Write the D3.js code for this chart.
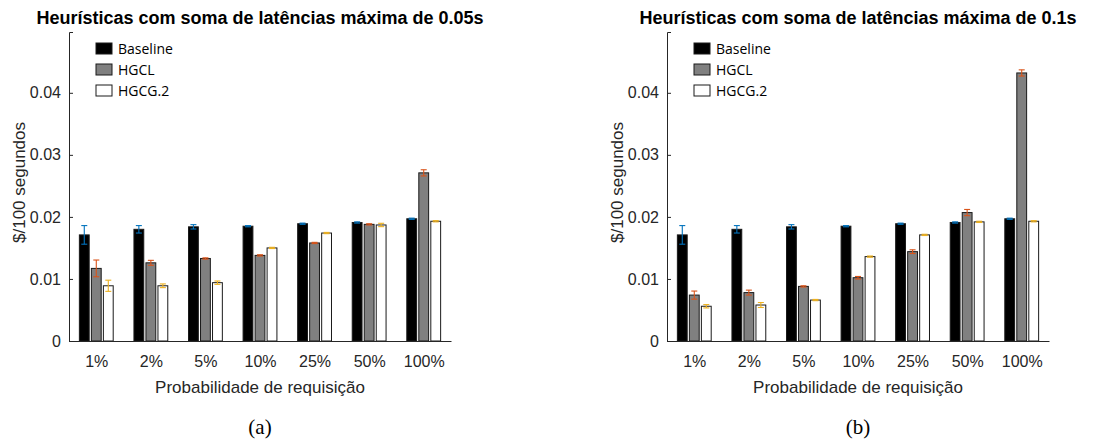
<!DOCTYPE html>
<html lang="en">
  <head>
    <meta charset="utf-8">
    <title>Heurísticas - custo por probabilidade de requisição</title>
    <style>
      body { margin: 0; background: #fff; }
      .tick text { font-family: "Liberation Sans", Arial, sans-serif; font-size: 16px; fill: #262626; }
      .legend text { font-family: "Open Sans", "DejaVu Sans", sans-serif; font-size: 14px; fill: #000; }
    </style>
  </head>
  <body>
    <div class="chart"></div>

    <script src="https://cdn.jsdelivr.net/npm/d3@7/dist/d3.min.js"></script>
    <script type="text/javascript">
      // categories and series
      var categories = ["1%", "2%", "5%", "10%", "25%", "50%", "100%"];
      var seriesNames = ["Baseline", "HGCL", "HGCG.2"];
      var yTicks = [0, 0.01, 0.02, 0.03, 0.04];

      // panel (a): max latency sum 0.05s
      var baselineA = [0.0171, 0.0180, 0.0184, 0.0185, 0.0189, 0.0191, 0.0197];
      var baselineErrA = [0.0015, 0.0006, 0.00035, 0.0001, 0.0001, 0.0001, 0.0001];
      var hgclA = [0.0117, 0.0126, 0.0133, 0.0138, 0.0158, 0.0188, 0.0271];
      var hgclErrA = [0.00135, 0.0004, 0.0001, 0.0001, 0.0001, 0.0001, 0.0005];
      var hgcgA = [0.0089, 0.0089, 0.0094, 0.0150, 0.0174, 0.0187, 0.0193];
      var hgcgErrA = [0.0009, 0.0003, 0.00027, 0.0001, 0.0001, 0.00027, 0.0001];

      // panel (b): max latency sum 0.1s
      var baselineB = [0.0171, 0.0180, 0.0184, 0.0185, 0.0189, 0.0191, 0.0197];
      var baselineErrB = [0.0015, 0.0006, 0.00035, 0.0001, 0.0001, 0.0001, 0.0001];
      var hgclB = [0.0074, 0.0078, 0.0088, 0.0102, 0.0144, 0.0207, 0.0432];
      var hgclErrB = [0.00065, 0.0004, 0.0001, 0.0002, 0.0003, 0.0005, 0.0005];
      var hgcgB = [0.0056, 0.0058, 0.0066, 0.0136, 0.0171, 0.0192, 0.0193];
      var hgcgErrB = [0.00027, 0.0004, 0.0001, 0.0001, 0.0001, 0.0001, 0.0001];

      var fills = ["#000000", "#808080", "#ffffff"];
      var errColors = ["#0072BD", "#D95319", "#EDB120"];

      var W = 1120, H = 441;
      var svg = d3.select(".chart")
        .append("svg")
          .attr("width", W)
          .attr("height", H);

      function drawPanel(left, title, caption, series, errs) {
          var margin = {top: 32, left: left, width: 382, height: 309};

          var g = svg.append("g")
              .attr("transform", "translate(" + margin.left + "," + margin.top + ")");

          var x = d3.scaleLinear().domain([0.5, 7.5]).range([0, margin.width]);
          var y = d3.scaleLinear().domain([0, 0.0498]).range([margin.height, 0]);
          var step = x(2) - x(1);
          var barW = step * 0.18, off = step * 0.22;

          // bars + error bars
          series.forEach(function(vals, s) {
              var grp = g.append("g").attr("class", "series-" + s);
              grp.selectAll("rect")
                  .data(vals)
                  .enter().append("rect")
                  .attr("x", function(d, i) { return x(i + 1) + (s - 1) * off - barW / 2; })
                  .attr("y", function(d) { return y(d); })
                  .attr("width", barW)
                  .attr("height", function(d) { return y(0) - y(d); })
                  .attr("fill", fills[s])
                  .attr("stroke", "#1a1a1a")
                  .attr("stroke-width", 1);

              var eb = grp.selectAll("g.err")
                  .data(vals.map(function(v, i) { return {v: v, e: errs[s][i], i: i}; }))
                  .enter().append("g").attr("class", "err")
                  .attr("stroke", errColors[s])
                  .attr("stroke-width", 1.1);
              var cx = function(d) { return x(d.i + 1) + (s - 1) * off; };
              eb.append("line")
                  .attr("x1", cx).attr("x2", cx)
                  .attr("y1", function(d) { return y(d.v - d.e); })
                  .attr("y2", function(d) { return y(d.v + d.e); });
              [-1, 1].forEach(function(sign) {
                  eb.append("line")
                      .attr("x1", function(d) { return cx(d) - 3; })
                      .attr("x2", function(d) { return cx(d) + 3; })
                      .attr("y1", function(d) { return y(d.v + sign * d.e); })
                      .attr("y2", function(d) { return y(d.v + sign * d.e); });
              });
          });

          // axes
          var yAxis = g.append("g")
              .call(d3.axisLeft(y).tickValues(yTicks).tickSize(-4).tickPadding(8)
                    .tickFormat(function(d) { return d === 0 ? "0" : d3.format(".2f")(d); }));
          var xAxis = g.append("g")
              .attr("transform", "translate(0," + margin.height + ")")
              .call(d3.axisBottom(x).tickValues(d3.range(1, 8)).tickSize(0).tickPadding(12)
                    .tickFormat(function(d) { return categories[d - 1]; }));
          [yAxis, xAxis].forEach(function(a) {
              a.select(".domain").attr("stroke", "#262626").attr("stroke-width", 1);
              a.selectAll(".tick line").attr("stroke", "#262626");
          });
          xAxis.selectAll(".tick text").attr("dy", "0.9em");

          // title
          g.append("text")
              .attr("x", margin.width / 2)
              .attr("y", -8)
              .attr("text-anchor", "middle")
              .style("font-family", "'Liberation Sans', Arial, sans-serif")
              .style("font-weight", "bold")
              .style("font-size", "18px")
              .text(title);

          // y label
          g.append("text")
              .attr("transform", "translate(-44," + (margin.height / 2 - 4) + ") rotate(-90)")
              .attr("text-anchor", "middle")
              .style("font-family", "'Liberation Sans', Arial, sans-serif")
              .style("font-size", "17px")
              .style("fill", "#262626")
              .text("$/100 segundos");

          // x label
          g.append("text")
              .attr("x", margin.width / 2)
              .attr("y", margin.height + 52)
              .attr("text-anchor", "middle")
              .style("font-family", "'Liberation Sans', Arial, sans-serif")
              .style("font-size", "17px")
              .style("fill", "#262626")
              .text("Probabilidade de requisição");

          // caption
          g.append("text")
              .attr("x", margin.width / 2)
              .attr("y", margin.height + 93)
              .attr("text-anchor", "middle")
              .style("font-family", "'Liberation Serif', 'Times New Roman', serif")
              .style("font-size", "21px")
              .text(caption);

          // legend
          var legend = g.append("g").attr("class", "legend")
              .attr("transform", "translate(27,11)");
          var item = legend.selectAll("g")
              .data(seriesNames)
              .enter().append("g")
              .attr("transform", function(d, i) { return "translate(0," + (i * 21) + ")"; });
          item.append("rect")
              .attr("width", 16).attr("height", 11)
              .attr("fill", function(d, i) { return fills[i]; })
              .attr("stroke", "#1a1a1a");
          item.append("text")
              .attr("x", 22).attr("y", 6)
              .attr("dy", "0.35em")
              .text(function(d) { return d; });
      }

      drawPanel(69, "Heurísticas com soma de latências máxima de 0.05s", "(a)",
                [baselineA, hgclA, hgcgA], [baselineErrA, hgclErrA, hgcgErrA]);
      drawPanel(667, "Heurísticas com soma de latências máxima de 0.1s", "(b)",
                [baselineB, hgclB, hgcgB], [baselineErrB, hgclErrB, hgcgErrB]);
    </script>
  </body>
</html>
